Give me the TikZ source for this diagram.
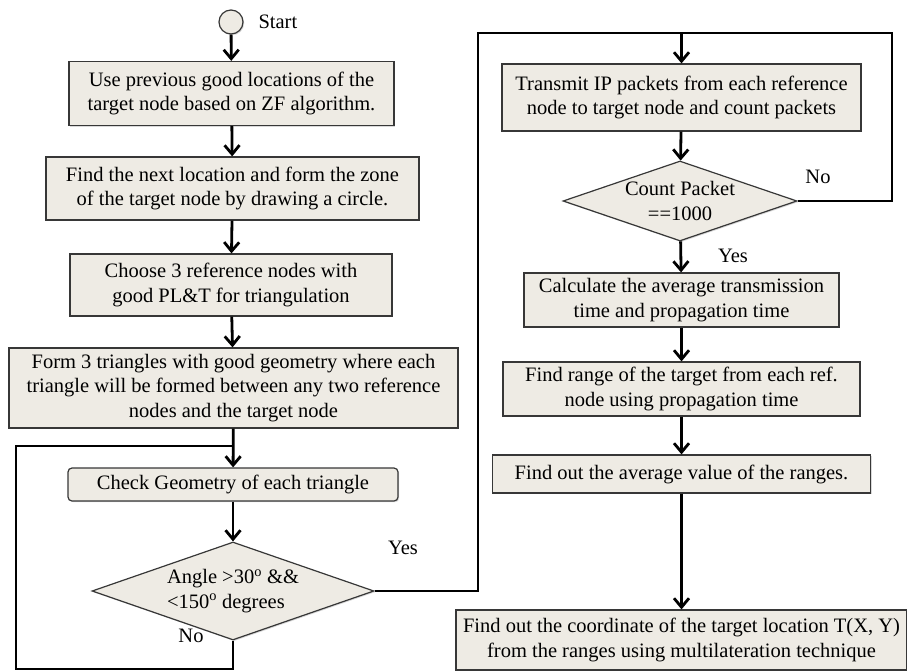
\documentclass[tikz,border=0pt]{standalone}
\usepackage{fontspec}
\setmainfont{Liberation Serif}
\usetikzlibrary{shapes.geometric,arrows.meta,shadows}
\definecolor{boxfill}{RGB}{238,235,228}
\definecolor{boxline}{RGB}{55,55,55}
\begin{document}
\begin{tikzpicture}[x=1pt,y=-1pt,font=\fontsize{20.5}{24.5}\selectfont,
    box/.style={draw=boxline,fill=boxfill,line width=1.2pt,align=center,inner sep=0pt,
      drop shadow={shadow xshift=1.2pt,shadow yshift=-1.2pt,opacity=0.3}},
    decision/.style={diamond,draw=boxline,fill=boxfill,line width=1.2pt,inner sep=0pt,
      drop shadow={shadow xshift=1.2pt,shadow yshift=-1.2pt,opacity=0.3}},
    line/.style={line width=2.8pt},
    flow/.style={line,-{Straight Barb[length=9pt,width=15pt]}}]
    \useasboundingbox (0,0) rectangle (907,671);
    % left column
    \node[box,circle,minimum size=24] (start) at (231,22) {};
    \node[anchor=west] (startlbl) at (255,22) {Start};
    \node[box,minimum width=325,minimum height=64] (prev) at (231.5,93.5) {Use previous good locations of the\\target node based on ZF algorithm.};
    \node[box,minimum width=373,minimum height=63] (zone) at (232.5,188.5) {Find the next location and form the zone\\of the target node by drawing a circle.};
    \node[box,minimum width=322,minimum height=62] (choose) at (231,285) {Choose 3 reference nodes with\\good PL\&T for triangulation};
    \node[box,minimum width=449,minimum height=80] (form) at (233.5,388) {Form 3 triangles with good geometry where each\\triangle will be formed between any two reference\\nodes and the target node};
    \node[box,rounded corners=4pt,minimum width=330,minimum height=33] (check) at (233,484.5) {Check Geometry of each triangle};
    \node[decision,minimum width=282,minimum height=98,
      label={[align=left]center:Angle >30\textsuperscript{o} \&\&\\<150\textsuperscript{o} degrees}] (angle) at (233,591) {};
    % right column
    \node[box,minimum width=359,minimum height=67] (send) at (681.5,97.5) {Transmit IP packets from each reference\\node to target node and count packets};
    \node[decision,minimum width=234,minimum height=80,
      label={[align=center]center:Count Packet\\==1000}] (count) at (680,201) {};
    \node[box,minimum width=315,minimum height=54] (calc) at (681.5,300) {Calculate the average transmission\\time and propagation time};
    \node[box,minimum width=357,minimum height=54] (range) at (681.5,389) {Find range of the target from each ref.\\node using propagation time};
    \node[box,minimum width=378,minimum height=38] (avg) at (681.5,474) {Find out the average value of the ranges.};
    \node[box,minimum width=451,minimum height=60] (final) at (681.5,640) {Find out the coordinate of the target location T(X, Y)\\from the ranges using multilateration technique};
    % labels
    \node (yes1) at (403,548) {Yes};
    \node (no1) at (191,636) {No};
    \node (no2) at (818,177) {No};
    \node (yes2) at (733,256) {Yes};
    % loop corners
    \coordinate (nobot) at (16,669);
    \coordinate (notop) at (16,446);
    \coordinate (topl) at (478,33);
    \coordinate (topr) at (892,33);
    % connectors
    \draw[flow] (start) -- (prev);
    \draw[flow] (prev) -- (zone);
    \draw[flow] (zone) -- (choose);
    \draw[flow] (choose) -- (form);
    \draw[flow] (form) -- (check);
    \draw[flow] (check) -- (angle);
    \draw[line] (angle.south) |- (nobot) -- (notop) -- (check.north |- notop);
    \draw[flow] (angle.east) -| (topl) -| (send.north);
    \draw[line] (count.east) -| (topr) -- (send.north |- topr);
    \draw[flow] (send) -- (count);
    \draw[flow] (count) -- (calc);
    \draw[flow] (calc) -- (range);
    \draw[flow] (range) -- (avg);
    \draw[flow] (avg) -- (final);
\end{tikzpicture}
\end{document}
